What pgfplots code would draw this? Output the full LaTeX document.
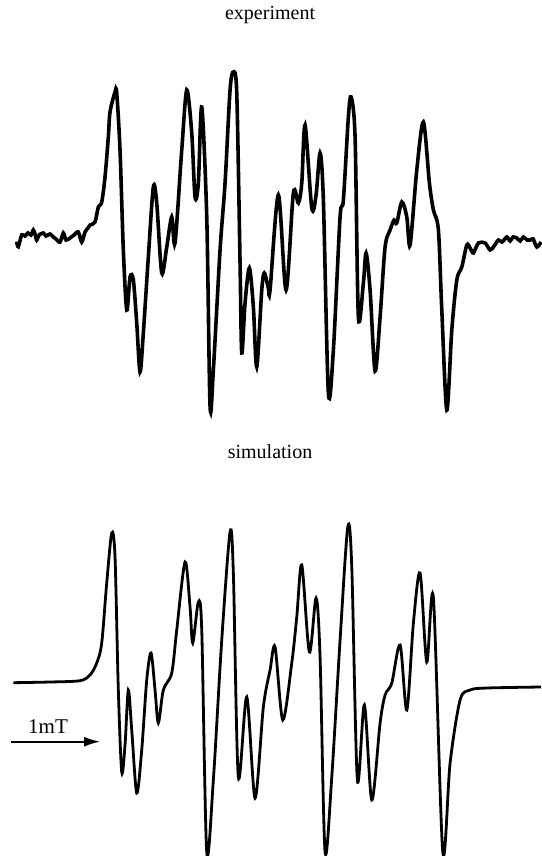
\documentclass[border=0pt]{standalone}
\usepackage{fontspec}
\setmainfont{Liberation Serif}
\usepackage{pgfplots}
\pgfplotsset{compat=1.18}
\usetikzlibrary{arrows.meta}
\begin{document}
\begin{tikzpicture}
\begin{axis}[
  scale only axis, width=270.5pt, height=428pt,
  xmin=0, xmax=541, ymin=0, ymax=856, y dir=reverse,
  hide axis, clip=false]
\addplot[draw=none] coordinates {(0,0) (541,856)};
% experiment
\addplot[black, line width=1.8pt, smooth, tension=0.5] coordinates {
(16.7,241.7) (18.3,246.7) (21.7,235) (25,236) (28,233) (31,235) (33.3,230) (35,234) (36.7,240) (39,235) (43.3,233) (46,236) (50,234) (53.3,237) (56,239) (60,242) (63.3,233) (66,240) (70,238) (74,235) (78.3,232) (81.7,242) (85,232) (88,228) (90,225) (95,222) (98.3,207) (101.7,202) (105,177) (108.3,137) (110,112) (115,92) (116.7,93) (120,150) (123.3,250) (126.7,310) (130,277) (133.3,280) (136.7,323) (140,372) (143.3,333) (148.3,257) (153.3,187) (156.7,203) (161.7,273) (166.7,247) (171.7,217) (175,243) (181.7,150) (186.7,90) (191.7,133) (195,197) (198.3,183) (201.7,107) (206.7,217) (210,406) (213.3,370) (220,250) (225,183) (230,90) (233.3,72) (236.7,93) (240,263) (241.7,353) (245,303) (249.3,268) (253.3,307) (256.7,367) (261.7,290) (264.3,273) (268.3,288) (270,290) (278.3,195) (286,290) (293.3,193) (298.3,203) (301.7,183) (305,125) (311.7,208) (316,195) (320,153) (323.3,200) (328.3,393) (333.3,350) (340,217) (343.3,200) (348.3,117) (351,97) (355,137) (358.3,317) (363.3,283) (366,253) (370,290) (375,371) (380,317) (385,247) (390,230) (394,220) (396.7,223) (401.7,202) (406.7,217) (410,245) (416.7,170) (423.3,122) (429.3,183) (433.3,210) (438.3,230) (441.7,310) (446.7,410) (451.7,330) (456.7,280) (461.7,267) (466.7,245) (470,248) (473.3,253) (478.3,243) (485,243) (490,250) (494,246) (498.3,240) (502,242) (506.7,237) (510,241) (513,237) (516.7,238) (520,241) (523.3,237) (527,240) (530,240) (533,239) (536.7,247) (541,242)};
% simulation
\addplot[black, line width=1.4pt, smooth, tension=0.5] coordinates {
(13.3,682.7) (50,682) (80,680.7) (90,675) (96.7,663) (101.7,643) (106.7,583) (111.7,533) (115,557) (118.3,690) (121.7,772) (125,745) (128.3,690) (131.7,730) (136.7,793) (141.7,750) (146.7,680) (151,653) (155,690) (158.3,723) (163.3,690) (171.7,673) (176.7,630) (185,562) (190,607) (192.7,643) (198.3,602) (201.7,630) (206.7,852) (213.3,780) (221.7,640) (230,532) (233.3,573) (238.3,777) (246.7,697) (255,798) (263.3,707) (270,670) (275,647) (282.7,720) (291.7,663) (296.7,617) (301.7,565) (309.3,652) (316,598) (320,657) (325,852) (331.7,777) (340,640) (347.7,527) (351.7,567) (357.3,780) (364.3,705) (371.7,800) (380,723) (385,695) (391.7,683) (400,645) (406.7,710) (413.3,623) (420,573) (426.7,662) (433.3,598) (442.7,852) (450,763) (460,700) (470,690) (486.7,688) (541,687)};
\node[font=\fontsize{10}{12}\selectfont] at (axis cs:270,15) {experiment};
\node[font=\fontsize{10}{12}\selectfont] at (axis cs:270,452) {simulation};
\node[font=\fontsize{10.5}{12}\selectfont] at (axis cs:48,727) {1mT};
\draw[line width=0.8pt, -{Latex[length=8pt,width=5pt]}] (axis cs:11,741.7) -- (axis cs:100,741.7);
\end{axis}
\pgfresetboundingbox
\path (current axis.south west) rectangle (current axis.north east);
\end{tikzpicture}
\end{document}
